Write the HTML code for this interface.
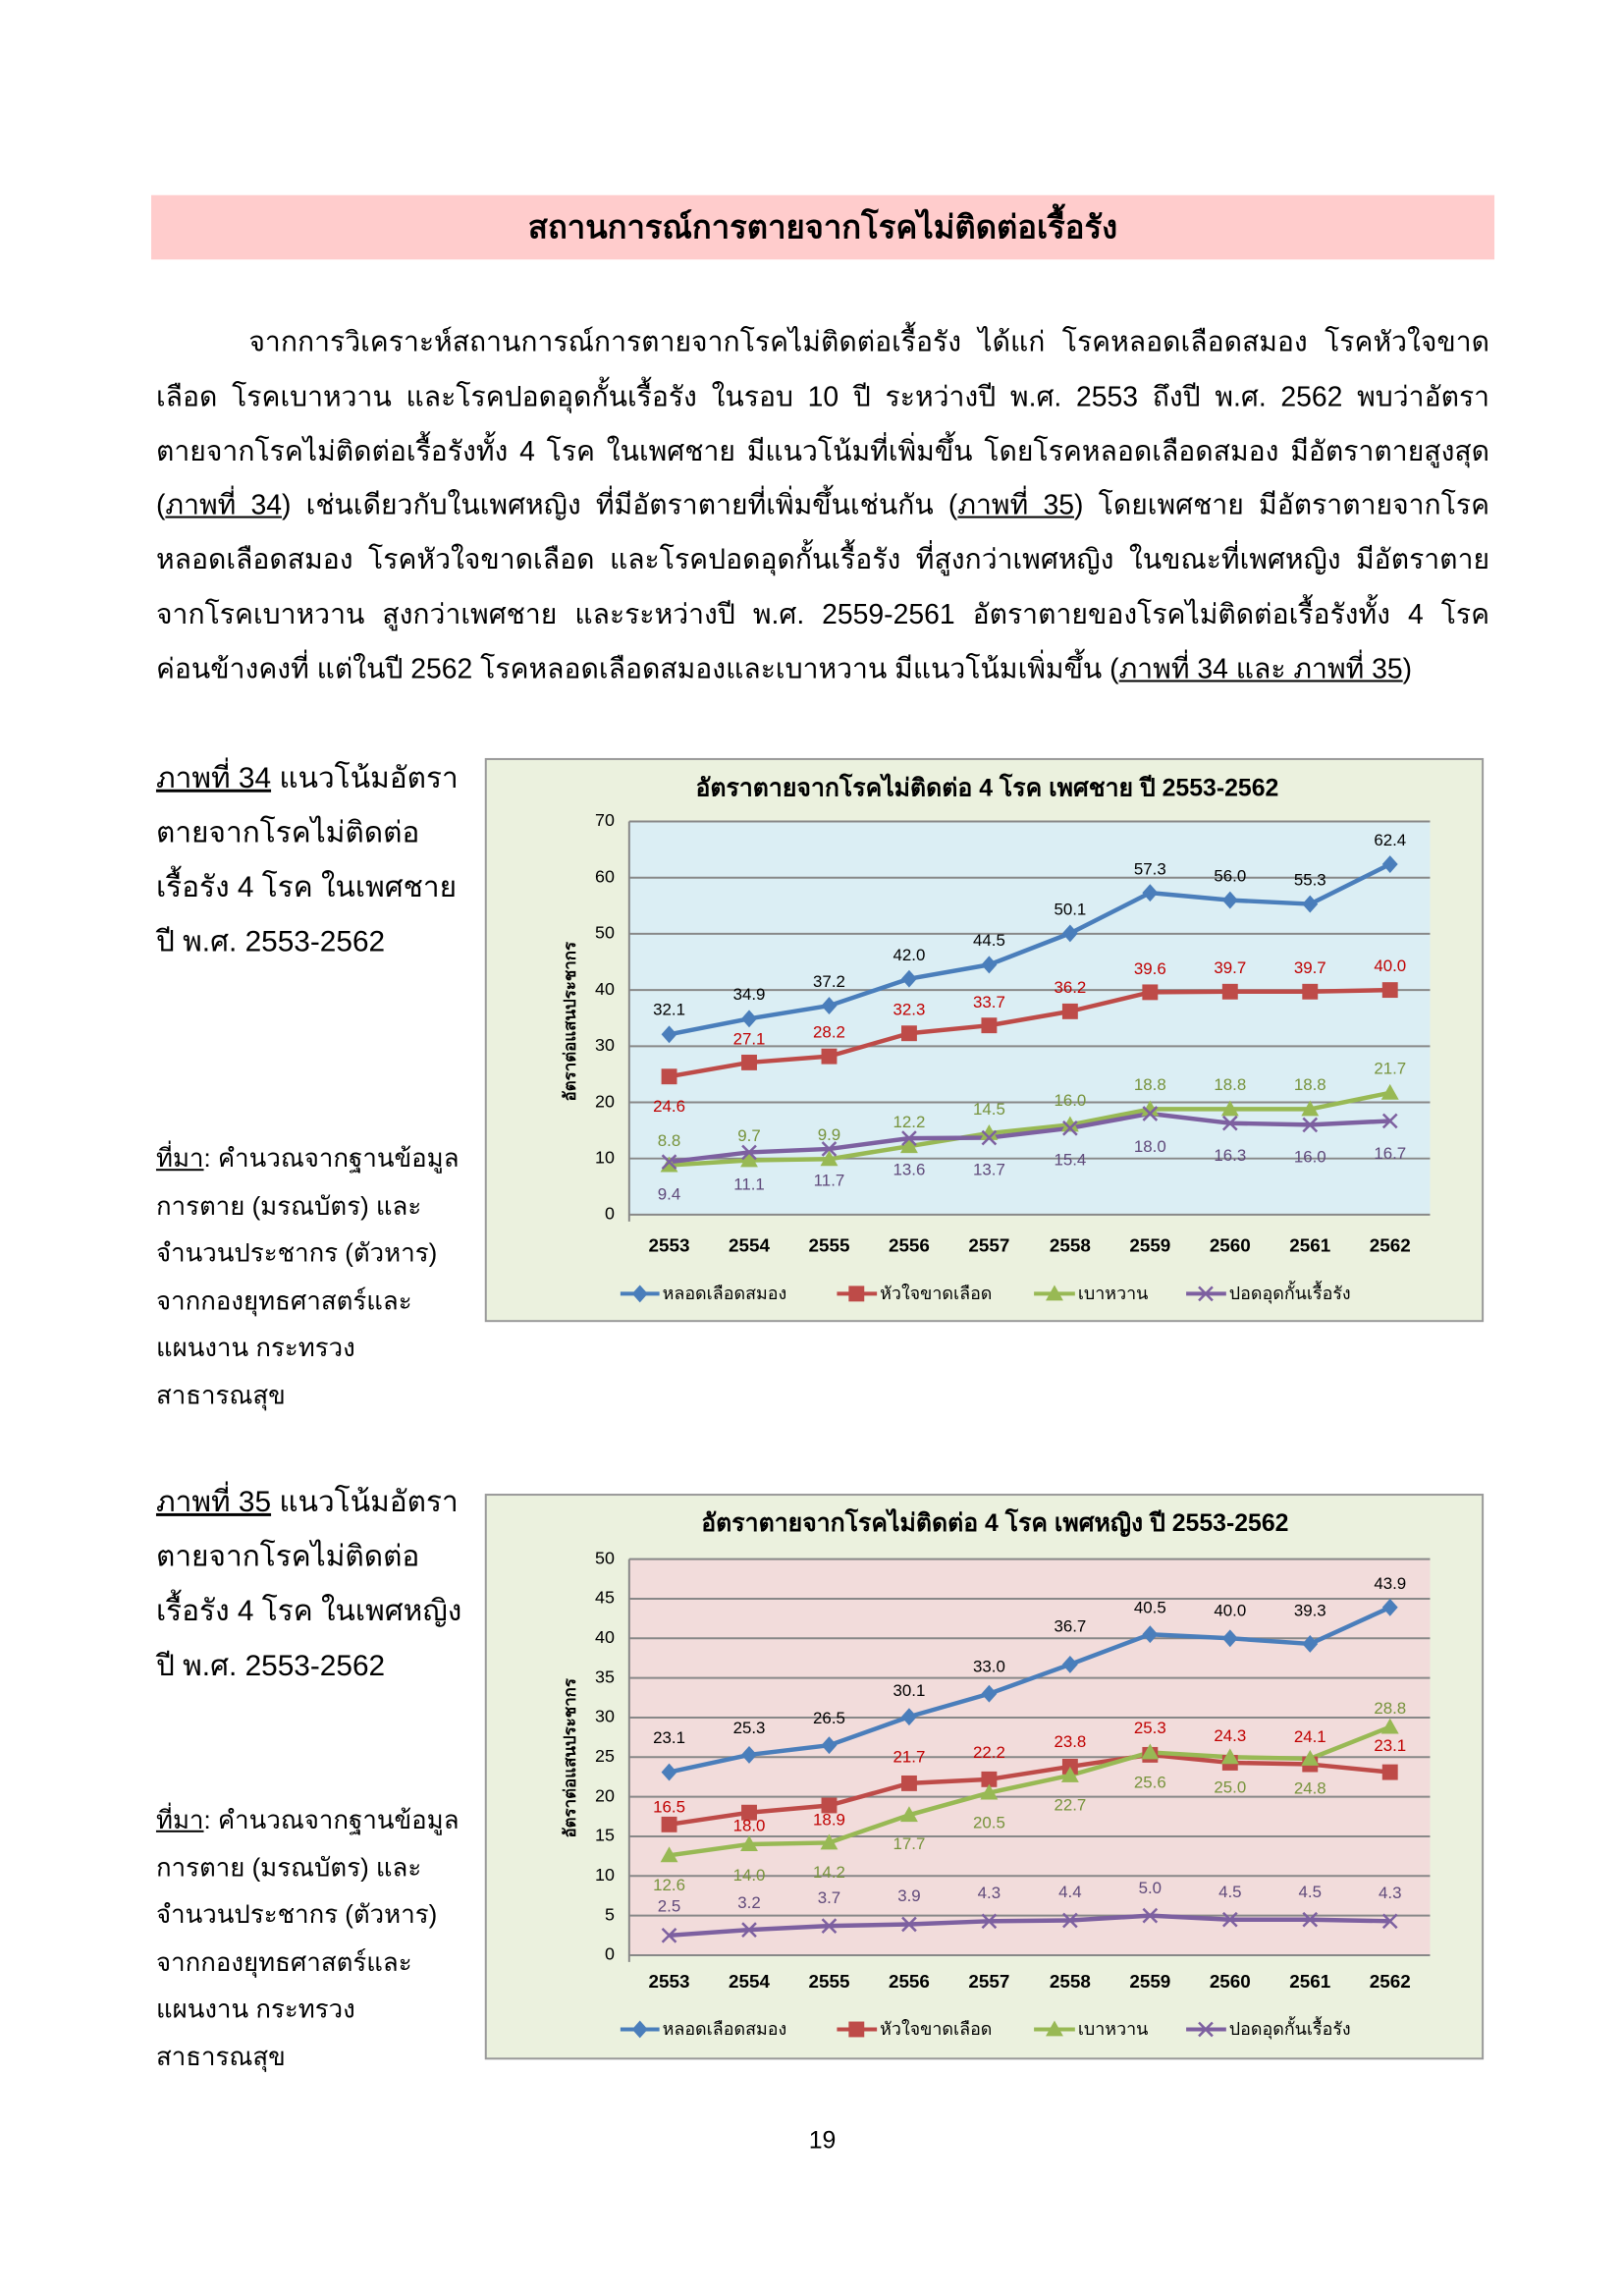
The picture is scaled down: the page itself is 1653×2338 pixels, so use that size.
<!DOCTYPE html>
<html><head><meta charset="utf-8">
<style>
html,body{margin:0;padding:0;background:#fff}
body{width:1653px;height:2338px;position:relative;overflow:hidden;font-family:"Liberation Sans","DejaVu Sans",sans-serif;color:#000}
#w{position:absolute;left:0;top:0;width:1653px;height:2338px;transform:scale(0.9935);transform-origin:0 0}
.bar{position:absolute;left:155px;top:200px;width:1377px;height:66px;background:#ffcccc;text-align:center;font-weight:bold;font-size:33px;line-height:66px}
.para{position:absolute;left:160px;width:1367px;font-size:28.5px;line-height:55.8px;text-align:justify;top:324px}
.para div{text-align:justify;text-align-last:justify;white-space:nowrap;height:55.8px}
.cap{position:absolute;left:160px;font-size:30px;line-height:56px}
.src{position:absolute;left:160px;font-size:26px;line-height:48.5px}
u{text-decoration:underline}
.pg{position:absolute;left:0;width:1686px;text-align:center;top:2180px;font-size:25px}
svg{position:absolute;left:0;top:0}
</style></head><body><div id="w">
<div class="bar">สถานการณ์การตายจากโรคไม่ติดต่อเรื้อรัง</div>
<div class="para">
<div style="padding-left:95px">จากการวิเคราะห์สถานการณ์การตายจากโรคไม่ติดต่อเรื้อรัง ได้แก่ โรคหลอดเลือดสมอง โรคหัวใจขาด</div>
<div>เลือด โรคเบาหวาน และโรคปอดอุดกั้นเรื้อรัง ในรอบ 10 ปี ระหว่างปี พ.ศ. 2553 ถึงปี พ.ศ. 2562 พบว่าอัตรา</div>
<div>ตายจากโรคไม่ติดต่อเรื้อรังทั้ง 4 โรค ในเพศชาย มีแนวโน้มที่เพิ่มขึ้น โดยโรคหลอดเลือดสมอง มีอัตราตายสูงสุด</div>
<div>(<u>ภาพที่ 34</u>) เช่นเดียวกับในเพศหญิง ที่มีอัตราตายที่เพิ่มขึ้นเช่นกัน (<u>ภาพที่ 35</u>) โดยเพศชาย มีอัตราตายจากโรค</div>
<div>หลอดเลือดสมอง โรคหัวใจขาดเลือด และโรคปอดอุดกั้นเรื้อรัง ที่สูงกว่าเพศหญิง ในขณะที่เพศหญิง มีอัตราตาย</div>
<div>จากโรคเบาหวาน สูงกว่าเพศชาย และระหว่างปี พ.ศ. 2559-2561 อัตราตายของโรคไม่ติดต่อเรื้อรังทั้ง 4 โรค</div>
<div style="text-align-last:left">ค่อนข้างคงที่ แต่ในปี 2562 โรคหลอดเลือดสมองและเบาหวาน มีแนวโน้มเพิ่มขึ้น (<u>ภาพที่ 34 และ ภาพที่ 35</u>)</div>
</div>
<div class="cap" style="top:770px"><u>ภาพที่ 34</u> แนวโน้มอัตรา<br>ตายจากโรคไม่ติดต่อ<br>เรื้อรัง 4 โรค ในเพศชาย<br>ปี พ.ศ. 2553-2562</div>
<div class="src" style="top:1163px"><u>ที่มา</u>: คำนวณจากฐานข้อมูล<br>การตาย (มรณบัตร) และ<br>จำนวนประชากร (ตัวหาร)<br>จากกองยุทธศาสตร์และ<br>แผนงาน กระทรวง<br>สาธารณสุข</div>
<div class="cap" style="top:1512px"><u>ภาพที่ 35</u> แนวโน้มอัตรา<br>ตายจากโรคไม่ติดต่อ<br>เรื้อรัง 4 โรค ในเพศหญิง<br>ปี พ.ศ. 2553-2562</div>
<div class="src" style="top:1841px"><u>ที่มา</u>: คำนวณจากฐานข้อมูล<br>การตาย (มรณบัตร) และ<br>จำนวนประชากร (ตัวหาร)<br>จากกองยุทธศาสตร์และ<br>แผนงาน กระทรวง<br>สาธารณสุข</div>
<div class="pg">19</div>

<svg width="1653" height="2338" viewBox="0 0 1653 2338" font-family="Liberation Sans, DejaVu Sans, sans-serif">
<defs>
<path id="dm" d="M0,-9 L8,0 L0,9 L-8,0Z" fill="#4a7ebb"/>
<rect id="sq" x="-8" y="-8" width="16" height="16" fill="#be4b48"/>
<path id="tr" d="M0,-9 L9,7 L-9,7Z" fill="#98b954"/>
<path id="xx" d="M-7,-7L7,7M-7,7L7,-7" stroke="#7d60a0" stroke-width="2.5" fill="none"/>
</defs>
<!-- CHART 1 -->
<rect x="498" y="778" width="1022" height="576" fill="#ebf1de" stroke="#999" stroke-width="2"/>
<rect x="645" y="842" width="821" height="403" fill="#dbeef4"/>
<g stroke="#888" stroke-width="2">
<line x1="645" x2="1466" y1="842" y2="842"/><line x1="645" x2="1466" y1="899.6" y2="899.6"/><line x1="645" x2="1466" y1="957.1" y2="957.1"/><line x1="645" x2="1466" y1="1014.7" y2="1014.7"/><line x1="645" x2="1466" y1="1072.3" y2="1072.3"/><line x1="645" x2="1466" y1="1129.9" y2="1129.9"/><line x1="645" x2="1466" y1="1187.4" y2="1187.4"/><line x1="645" x2="1466" y1="1245" y2="1245"/>
<line x1="645" x2="645" y1="842" y2="1252"/>
</g>
<text x="1012" y="816" font-size="25" text-anchor="middle" font-weight="bold">อัตราตายจากโรคไม่ติดต่อ 4 โรค เพศชาย ปี 2553-2562</text>
<g font-size="18" text-anchor="end" dominant-baseline="middle"><text x="630" y="842">70</text><text x="630" y="899.6">60</text><text x="630" y="957.1">50</text><text x="630" y="1014.7">40</text><text x="630" y="1072.3">30</text><text x="630" y="1129.9">20</text><text x="630" y="1187.4">10</text><text x="630" y="1245">0</text></g>
<text transform="translate(590,1047) rotate(-90)" font-size="17" font-weight="bold" text-anchor="middle">อัตราต่อแสนประชากร</text>
<g font-size="19" text-anchor="middle" font-weight="bold"><text x="686" y="1283">2553</text><text x="768" y="1283">2554</text><text x="850" y="1283">2555</text><text x="932" y="1283">2556</text><text x="1014" y="1283">2557</text><text x="1097" y="1283">2558</text><text x="1179" y="1283">2559</text><text x="1261" y="1283">2560</text><text x="1343" y="1283">2561</text><text x="1425" y="1283">2562</text></g>
<g fill="none" stroke-width="4.5" stroke-linejoin="round">
<polyline stroke="#4a7ebb" points="686,1060.2 768,1044.1 850,1030.8 932,1003.2 1014,988.8 1097,956.6 1179,915.1 1261,922.6 1343,926.6 1425,885.8"/>
<polyline stroke="#be4b48" points="686,1103.4 768,1089 850,1082.7 932,1059.1 1014,1051 1097,1036.6 1179,1017 1261,1016.4 1343,1016.4 1425,1014.7"/>
<polyline stroke="#98b954" points="686,1194.3 768,1189.2 850,1188 932,1174.8 1014,1161.5 1097,1152.9 1179,1136.8 1261,1136.8 1343,1136.8 1425,1120.1"/>
<polyline stroke="#7d60a0" points="686,1190.9 768,1181.1 850,1177.6 932,1166.7 1014,1166.1 1097,1156.3 1179,1141.4 1261,1151.2 1343,1152.9 1425,1148.9"/>
</g>
<g>
<use href="#dm" x="686" y="1060.2"/><use href="#dm" x="768" y="1044.1"/><use href="#dm" x="850" y="1030.8"/><use href="#dm" x="932" y="1003.2"/><use href="#dm" x="1014" y="988.8"/><use href="#dm" x="1097" y="956.6"/><use href="#dm" x="1179" y="915.1"/><use href="#dm" x="1261" y="922.6"/><use href="#dm" x="1343" y="926.6"/><use href="#dm" x="1425" y="885.8"/>
<use href="#sq" x="686" y="1103.4"/><use href="#sq" x="768" y="1089"/><use href="#sq" x="850" y="1082.7"/><use href="#sq" x="932" y="1059.1"/><use href="#sq" x="1014" y="1051"/><use href="#sq" x="1097" y="1036.6"/><use href="#sq" x="1179" y="1017"/><use href="#sq" x="1261" y="1016.4"/><use href="#sq" x="1343" y="1016.4"/><use href="#sq" x="1425" y="1014.7"/>
<use href="#tr" x="686" y="1194.3"/><use href="#tr" x="768" y="1189.2"/><use href="#tr" x="850" y="1188"/><use href="#tr" x="932" y="1174.8"/><use href="#tr" x="1014" y="1161.5"/><use href="#tr" x="1097" y="1152.9"/><use href="#tr" x="1179" y="1136.8"/><use href="#tr" x="1261" y="1136.8"/><use href="#tr" x="1343" y="1136.8"/><use href="#tr" x="1425" y="1120.1"/>
<use href="#xx" x="686" y="1190.9"/><use href="#xx" x="768" y="1181.1"/><use href="#xx" x="850" y="1177.6"/><use href="#xx" x="932" y="1166.7"/><use href="#xx" x="1014" y="1166.1"/><use href="#xx" x="1097" y="1156.3"/><use href="#xx" x="1179" y="1141.4"/><use href="#xx" x="1261" y="1151.2"/><use href="#xx" x="1343" y="1152.9"/><use href="#xx" x="1425" y="1148.9"/>
</g>
<g font-size="17" text-anchor="middle" dominant-baseline="middle">
<g fill="#000"><text x="686" y="1036">32.1</text><text x="768" y="1020">34.9</text><text x="850" y="1007">37.2</text><text x="932" y="980">42.0</text><text x="1014" y="965">44.5</text><text x="1097" y="933">50.1</text><text x="1179" y="892">57.3</text><text x="1261" y="899">56.0</text><text x="1343" y="903">55.3</text><text x="1425" y="862">62.4</text></g>
<g fill="#c00000"><text x="686" y="1135">24.6</text><text x="768" y="1066">27.1</text><text x="850" y="1059">28.2</text><text x="932" y="1036">32.3</text><text x="1014" y="1028">33.7</text><text x="1097" y="1013">36.2</text><text x="1179" y="994">39.6</text><text x="1261" y="993">39.7</text><text x="1343" y="993">39.7</text><text x="1425" y="991">40.0</text></g>
<g fill="#77933c"><text x="686" y="1170">8.8</text><text x="768" y="1165">9.7</text><text x="850" y="1164">9.9</text><text x="932" y="1151">12.2</text><text x="1014" y="1138">14.5</text><text x="1097" y="1129">16.0</text><text x="1179" y="1113">18.8</text><text x="1261" y="1113">18.8</text><text x="1343" y="1113">18.8</text><text x="1425" y="1096">21.7</text></g>
<g fill="#5f497a"><text x="686" y="1225">9.4</text><text x="768" y="1215">11.1</text><text x="850" y="1211">11.7</text><text x="932" y="1200">13.6</text><text x="1014" y="1200">13.7</text><text x="1097" y="1190">15.4</text><text x="1179" y="1176">18.0</text><text x="1261" y="1185">16.3</text><text x="1343" y="1187">16.0</text><text x="1425" y="1183">16.7</text></g>
</g>
<g font-size="18" dominant-baseline="middle">
<line x1="636" x2="676" y1="1326" y2="1326" stroke="#4a7ebb" stroke-width="4"/><use href="#dm" x="656" y="1326"/><text x="679" y="1327">หลอดเลือดสมอง</text>
<line x1="858" x2="899" y1="1326" y2="1326" stroke="#be4b48" stroke-width="4"/><use href="#sq" x="878" y="1326"/><text x="902" y="1327">หัวใจขาดเลือด</text>
<line x1="1060" x2="1102" y1="1326" y2="1326" stroke="#98b954" stroke-width="4"/><use href="#tr" x="1081" y="1326"/><text x="1105" y="1327">เบาหวาน</text>
<line x1="1216" x2="1257" y1="1326" y2="1326" stroke="#7d60a0" stroke-width="4"/><use href="#xx" x="1236" y="1326"/><text x="1260" y="1327">ปอดอุดกั้นเรื้อรัง</text>
</g>

<!-- CHART 2 -->
<rect x="498" y="1532" width="1022" height="578" fill="#ebf1de" stroke="#999" stroke-width="2"/>
<rect x="645" y="1598" width="821" height="406" fill="#f2dcdb"/>
<g stroke="#888" stroke-width="2">
<line x1="645" x2="1466" y1="1598" y2="1598"/><line x1="645" x2="1466" y1="1638.6" y2="1638.6"/><line x1="645" x2="1466" y1="1679.2" y2="1679.2"/><line x1="645" x2="1466" y1="1719.8" y2="1719.8"/><line x1="645" x2="1466" y1="1760.4" y2="1760.4"/><line x1="645" x2="1466" y1="1801" y2="1801"/><line x1="645" x2="1466" y1="1841.6" y2="1841.6"/><line x1="645" x2="1466" y1="1882.2" y2="1882.2"/><line x1="645" x2="1466" y1="1922.8" y2="1922.8"/><line x1="645" x2="1466" y1="1963.4" y2="1963.4"/><line x1="645" x2="1466" y1="2004" y2="2004"/>
<line x1="645" x2="645" y1="1598" y2="2011"/>
</g>
<text x="1020" y="1569" font-size="25" text-anchor="middle" font-weight="bold">อัตราตายจากโรคไม่ติดต่อ 4 โรค เพศหญิง ปี 2553-2562</text>
<g font-size="18" text-anchor="end" dominant-baseline="middle"><text x="630" y="1598">50</text><text x="630" y="1638.6">45</text><text x="630" y="1679.2">40</text><text x="630" y="1719.8">35</text><text x="630" y="1760.4">30</text><text x="630" y="1801">25</text><text x="630" y="1841.6">20</text><text x="630" y="1882.2">15</text><text x="630" y="1922.8">10</text><text x="630" y="1963.4">5</text><text x="630" y="2004">0</text></g>
<text transform="translate(590,1802) rotate(-90)" font-size="17" font-weight="bold" text-anchor="middle">อัตราต่อแสนประชากร</text>
<g font-size="19" text-anchor="middle" font-weight="bold"><text x="686" y="2037">2553</text><text x="768" y="2037">2554</text><text x="850" y="2037">2555</text><text x="932" y="2037">2556</text><text x="1014" y="2037">2557</text><text x="1097" y="2037">2558</text><text x="1179" y="2037">2559</text><text x="1261" y="2037">2560</text><text x="1343" y="2037">2561</text><text x="1425" y="2037">2562</text></g>
<g fill="none" stroke-width="4.5" stroke-linejoin="round">
<polyline stroke="#4a7ebb" points="686,1816.4 768,1798.6 850,1788.8 932,1759.6 1014,1736 1097,1706 1179,1675.1 1261,1679.2 1343,1684.9 1425,1647.5"/>
<polyline stroke="#be4b48" points="686,1870 768,1857.8 850,1850.5 932,1827.8 1014,1823.7 1097,1810.7 1179,1798.6 1261,1806.7 1343,1808.3 1425,1816.4"/>
<polyline stroke="#98b954" points="686,1901.7 768,1890.3 850,1888.7 932,1860.3 1014,1837.5 1097,1819.7 1179,1796.1 1261,1801 1343,1802.6 1425,1770.1"/>
<polyline stroke="#7d60a0" points="686,1983.7 768,1978 850,1974 932,1972.3 1014,1969.1 1097,1968.3 1179,1963.4 1261,1967.5 1343,1967.5 1425,1969.1"/>
</g>
<g>
<use href="#dm" x="686" y="1816.4"/><use href="#dm" x="768" y="1798.6"/><use href="#dm" x="850" y="1788.8"/><use href="#dm" x="932" y="1759.6"/><use href="#dm" x="1014" y="1736"/><use href="#dm" x="1097" y="1706"/><use href="#dm" x="1179" y="1675.1"/><use href="#dm" x="1261" y="1679.2"/><use href="#dm" x="1343" y="1684.9"/><use href="#dm" x="1425" y="1647.5"/>
<use href="#sq" x="686" y="1870"/><use href="#sq" x="768" y="1857.8"/><use href="#sq" x="850" y="1850.5"/><use href="#sq" x="932" y="1827.8"/><use href="#sq" x="1014" y="1823.7"/><use href="#sq" x="1097" y="1810.7"/><use href="#sq" x="1179" y="1798.6"/><use href="#sq" x="1261" y="1806.7"/><use href="#sq" x="1343" y="1808.3"/><use href="#sq" x="1425" y="1816.4"/>
<use href="#tr" x="686" y="1901.7"/><use href="#tr" x="768" y="1890.3"/><use href="#tr" x="850" y="1888.7"/><use href="#tr" x="932" y="1860.3"/><use href="#tr" x="1014" y="1837.5"/><use href="#tr" x="1097" y="1819.7"/><use href="#tr" x="1179" y="1796.1"/><use href="#tr" x="1261" y="1801"/><use href="#tr" x="1343" y="1802.6"/><use href="#tr" x="1425" y="1770.1"/>
<use href="#xx" x="686" y="1983.7"/><use href="#xx" x="768" y="1978"/><use href="#xx" x="850" y="1974"/><use href="#xx" x="932" y="1972.3"/><use href="#xx" x="1014" y="1969.1"/><use href="#xx" x="1097" y="1968.3"/><use href="#xx" x="1179" y="1963.4"/><use href="#xx" x="1261" y="1967.5"/><use href="#xx" x="1343" y="1967.5"/><use href="#xx" x="1425" y="1969.1"/>
</g>
<g font-size="17" text-anchor="middle" dominant-baseline="middle">
<g fill="#000"><text x="686" y="1782">23.1</text><text x="768" y="1772">25.3</text><text x="850" y="1762">26.5</text><text x="932" y="1734">30.1</text><text x="1014" y="1709">33.0</text><text x="1097" y="1668">36.7</text><text x="1179" y="1649">40.5</text><text x="1261" y="1652">40.0</text><text x="1343" y="1652">39.3</text><text x="1425" y="1624">43.9</text></g>
<g fill="#c00000"><text x="686" y="1853">16.5</text><text x="768" y="1872">18.0</text><text x="850" y="1866">18.9</text><text x="932" y="1802">21.7</text><text x="1014" y="1797">22.2</text><text x="1097" y="1786">23.8</text><text x="1179" y="1772">25.3</text><text x="1261" y="1780">24.3</text><text x="1343" y="1781">24.1</text><text x="1425" y="1790">23.1</text></g>
<g fill="#77933c"><text x="686" y="1933">12.6</text><text x="768" y="1923">14.0</text><text x="850" y="1920">14.2</text><text x="932" y="1891">17.7</text><text x="1014" y="1869">20.5</text><text x="1097" y="1851">22.7</text><text x="1179" y="1828">25.6</text><text x="1261" y="1833">25.0</text><text x="1343" y="1834">24.8</text><text x="1425" y="1752">28.8</text></g>
<g fill="#5f497a"><text x="686" y="1955">2.5</text><text x="768" y="1951">3.2</text><text x="850" y="1946">3.7</text><text x="932" y="1944">3.9</text><text x="1014" y="1941">4.3</text><text x="1097" y="1940">4.4</text><text x="1179" y="1936">5.0</text><text x="1261" y="1940">4.5</text><text x="1343" y="1940">4.5</text><text x="1425" y="1941">4.3</text></g>
</g>
<g font-size="18" dominant-baseline="middle">
<line x1="636" x2="676" y1="2080" y2="2080" stroke="#4a7ebb" stroke-width="4"/><use href="#dm" x="656" y="2080"/><text x="679" y="2081">หลอดเลือดสมอง</text>
<line x1="858" x2="899" y1="2080" y2="2080" stroke="#be4b48" stroke-width="4"/><use href="#sq" x="878" y="2080"/><text x="902" y="2081">หัวใจขาดเลือด</text>
<line x1="1060" x2="1102" y1="2080" y2="2080" stroke="#98b954" stroke-width="4"/><use href="#tr" x="1081" y="2080"/><text x="1105" y="2081">เบาหวาน</text>
<line x1="1216" x2="1257" y1="2080" y2="2080" stroke="#7d60a0" stroke-width="4"/><use href="#xx" x="1236" y="2080"/><text x="1260" y="2081">ปอดอุดกั้นเรื้อรัง</text>
</g>
</svg>
</div></body></html>
